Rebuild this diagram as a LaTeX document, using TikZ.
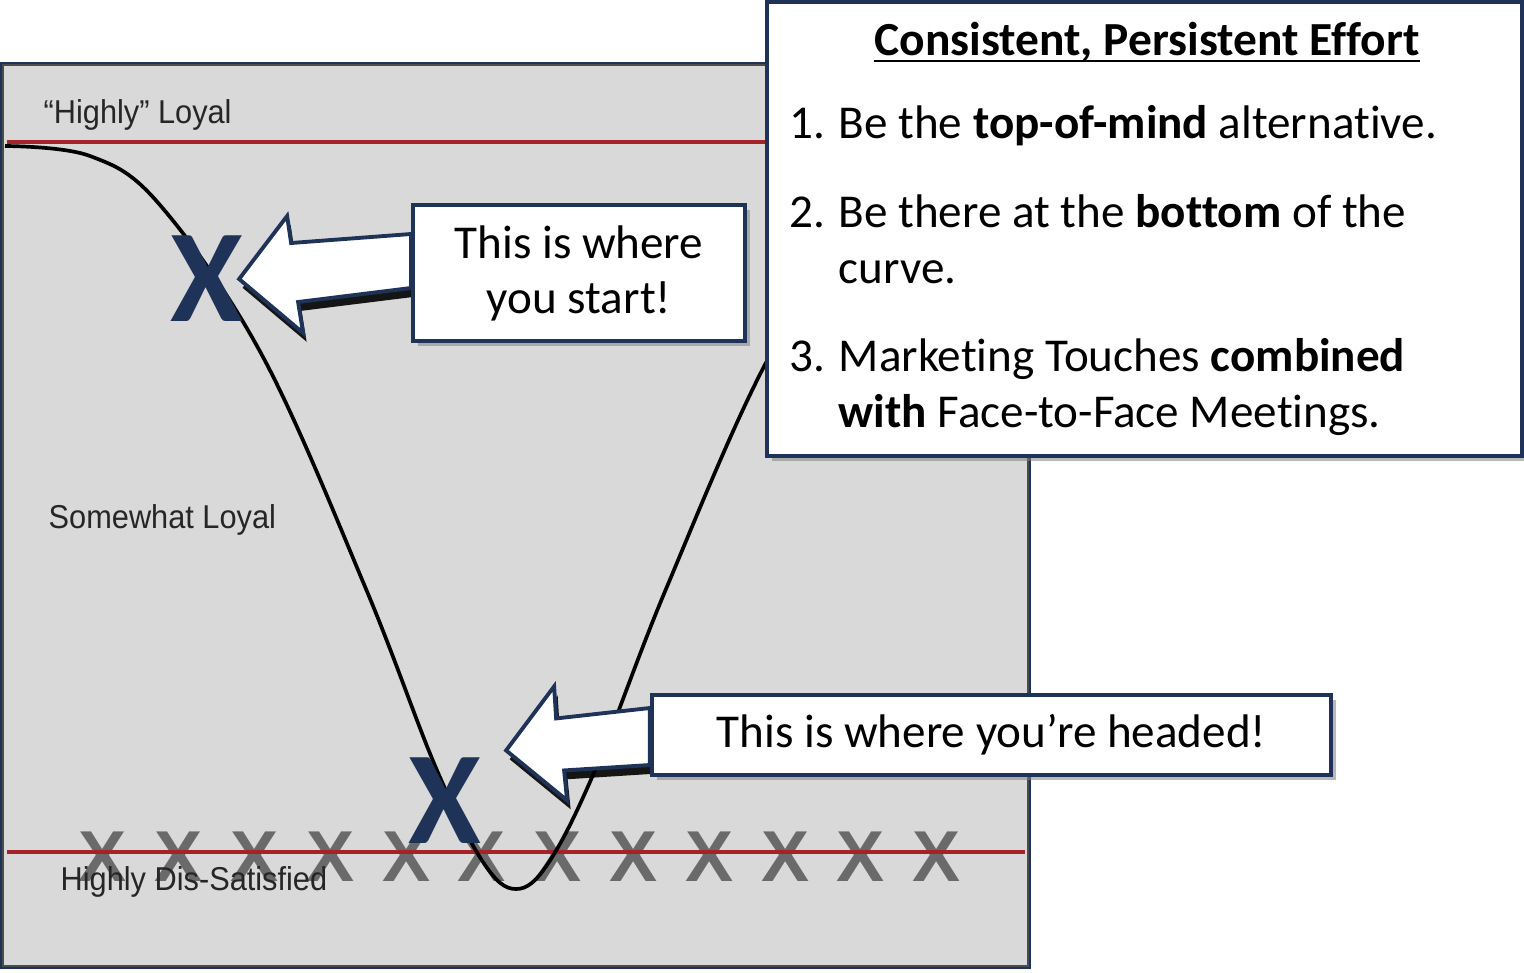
\documentclass[tikz,border=0pt]{standalone}
\usepackage{fontspec}
\setmainfont{Carlito}[Ligatures=NoCommon]
\newfontfamily\panelfont[FakeStretch=0.93]{Liberation Sans}
\newfontfamily\markfont{Liberation Sans}
\usetikzlibrary{shadows, calc}

\definecolor{navy}{RGB}{31,51,89}
\definecolor{panelgray}{RGB}{217,217,217}
\definecolor{lineRed}{RGB}{165,35,40}
\definecolor{markgray}{RGB}{95,95,95}

\pgfdeclarelayer{back}
\pgfdeclarelayer{mid}
\pgfsetlayers{back,mid,main}

\begin{document}
\begin{tikzpicture}[x=0.01cm, y=-0.01cm,
  callout/.style={draw=navy, line width=1.1pt, fill=white, align=center,
                  font=\fontsize{13.4}{15.6}\selectfont,
                  drop shadow={shadow xshift=1.5pt, shadow yshift=-1.5pt, opacity=0.55}},
  blockarrow/.style={draw=navy, line width=1.1pt, fill=white, line join=miter,
                  drop shadow={shadow xshift=1pt, shadow yshift=-2.5pt, opacity=0.9, fill=black}},
  tierlabel/.style={anchor=base west, inner sep=0, text=black!85,
                  font=\panelfont\fontsize{9.4}{11}\selectfont},
  greyx/.style={inner sep=0, text=markgray, opacity=0.9,
                  font=\markfont\bfseries\fontsize{20.5}{21}\selectfont},
  bigx/.style={inner sep=0, text=navy, font=\bfseries\fontsize{37.6}{38}\selectfont},
  item/.style={anchor=base west, align=left, inner sep=0,
                  font=\fontsize{13.4}{15.9}\selectfont},
  redline/.style={draw=lineRed, line width=0.9pt}
]
  \useasboundingbox (0,0) rectangle (1524,972);

  \begin{pgfonlayer}{back}
  % gray panel
  \node[draw=navy, line width=1pt, fill=panelgray, minimum width=10.27cm,
        minimum height=9.03cm, inner sep=0] (panel) at (515.5,515.5) {};
  \draw[black!70, line width=0.4pt] ($(panel.north west)+(3,3)$) rectangle ($(panel.south east)+(-3,-3)$);

  % row of X's at the bottom
  \foreach \i in {0,...,11}
    \node[greyx] (g\i) at (103+75.8*\i, 857) {X};

  \draw[redline] (7,142) -- (1025,142);
  \draw[redline] (7,852) -- (1025,852);

  \node[tierlabel] (loyal)    at (43,123) {“Highly” Loyal};
  \node[tierlabel] (somewhat) at (48,528) {Somewhat Loyal};
  \node[tierlabel] (dissat)   at (60,890) {Highly Dis-Satisfied};

  % loyalty curve
  \draw[line width=1.05pt] plot[smooth, tension=0.6] coordinates {
    (5,146) (90,156) (160,205) (263,357) (366,589) (436,768) (483,862)
    (516,889)
    (549,862) (596,768) (666,589) (769,357) (872,205) (942,156) (1027,146)};

  \node[bigx] (xstart) at (207,279) {X};
  \node[bigx] (xend)   at (445,801) {X};
  \end{pgfonlayer}

  \node[callout, minimum width=3.32cm, minimum height=1.36cm] (start) at (579,273)
       {This is where\\you start!};
  \node[callout, minimum width=6.79cm, minimum height=0.80cm] (headed) at (991.5,735)
       {This is where you’re headed!};

  \coordinate (tipA) at ($(xstart.east)+(-5,0)$);
  \coordinate (tipB) at ($(xend.north east)+(24,-7)$);

  \begin{pgfonlayer}{mid}
  \draw[blockarrow] ($(start.west)+(0,-39)$) -- ($(tipA)+(52,-36)$) -- ($(tipA)+(48,-63)$)
       -- (tipA) -- ($(tipA)+(64,54)$) -- ($(tipA)+(59,23)$) -- ($(start.west)+(0,15)$) -- cycle;
  \draw[blockarrow] ($(headed.west)+(0,-27)$) -- ($(tipB)+(50,-32)$) -- ($(tipB)+(48,-64)$)
       -- (tipB) -- ($(tipB)+(61,50)$) -- ($(tipB)+(58,20)$) -- ($(headed.west)+(0,30)$) -- cycle;
  \end{pgfonlayer}

  % effort box
  \node[callout, minimum width=7.55cm, minimum height=4.54cm] (effort) at (1144.5,229) {};
  \node[anchor=base, inner sep=0, font=\bfseries\fontsize{13.5}{16}\selectfont] (title)
       at (1147,55) {Consistent, Persistent Effort};
  \draw[line width=0.6pt] ($(title.base west)+(0,6)$) -- ($(title.base east)+(0,6)$);
  \node[item] (first) at (789,138)
       {\makebox[0.49cm][l]{1.}Be the \textbf{top-of-mind} alternative.};
  \node[item] (second) at (789,283)
       {\makebox[0.49cm][l]{2.}Be there at the \textbf{bottom} of the\\\hspace*{0.49cm}curve.};
  \node[item] (third) at (789,427)
       {\makebox[0.49cm][l]{3.}Marketing Touches \textbf{combined}\\\hspace*{0.49cm}\textbf{with} Face-to-Face Meetings.};
\end{tikzpicture}
\end{document}
